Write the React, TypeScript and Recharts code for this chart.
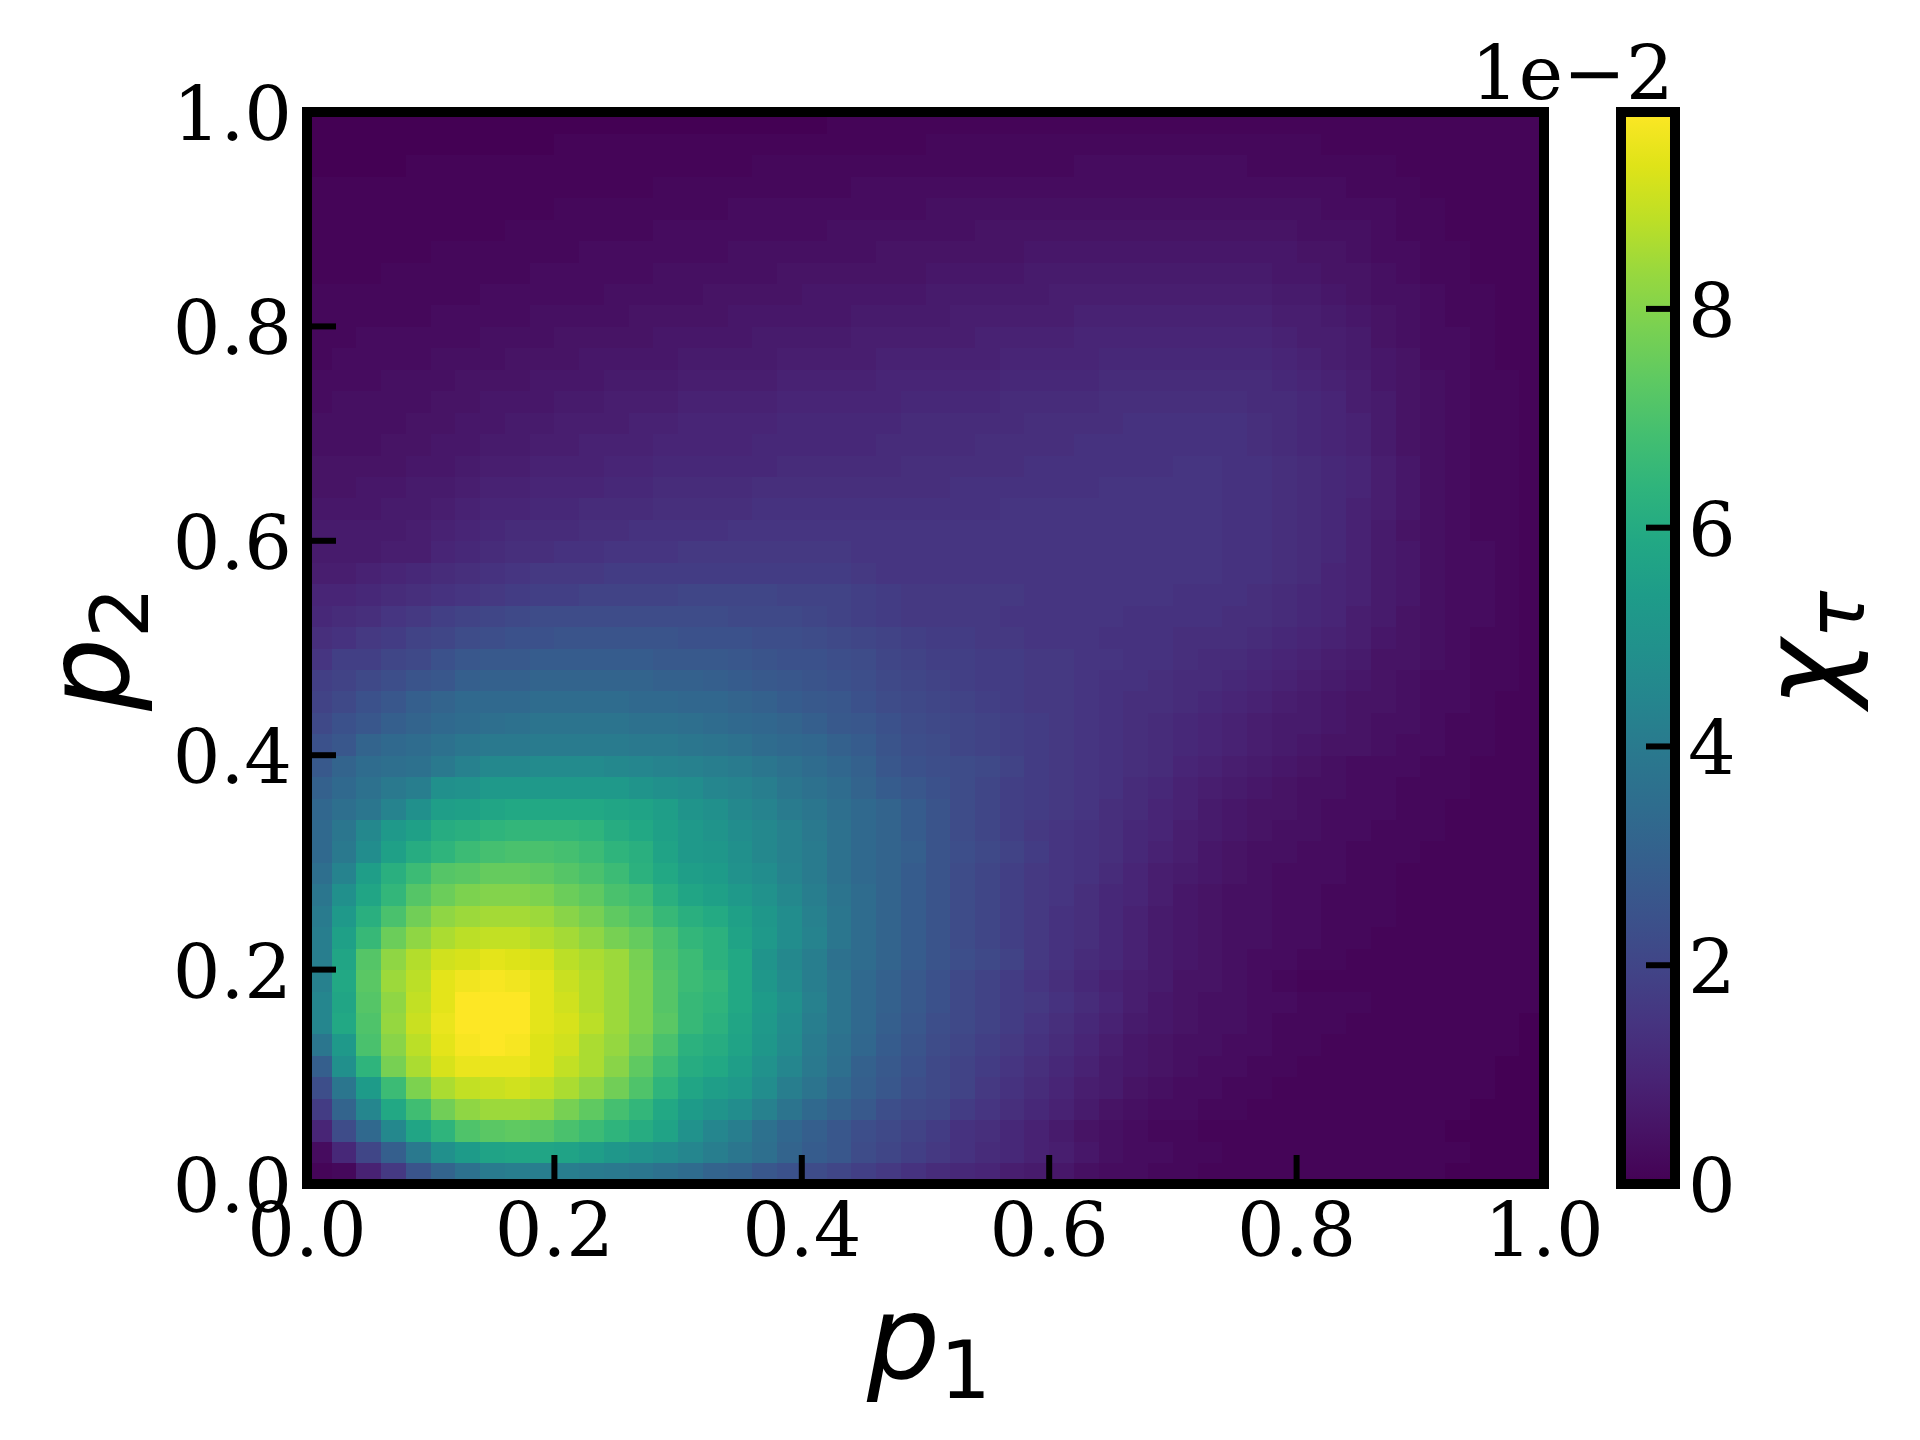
import React from "react";
import { ScatterChart, Scatter, XAxis, YAxis, ReferenceArea, Label } from "recharts";

// heat map values in units of 1e-3, bottom row (p2 = 0) first, left column (p1 = 0) first
const chiRows: number[][] = [
  [1,2,9,16,25,31,36,40,41,41,41,40,39,38,36,34,31,30,26,24,22,20,18,16,14,12,11,10,8,7,6,4,3,3,2,2,1,1,1,1,1,1,1,1,1,1,0,0,0,0],
  [3,11,20,29,39,48,53,56,57,57,56,54,51,49,47,44,41,38,35,31,28,26,22,20,18,16,14,12,11,9,8,6,4,3,3,2,2,1,1,1,1,1,1,1,1,1,1,0,0,0],
  [10,22,33,45,57,63,70,72,73,72,69,66,63,60,56,49,44,41,36,32,29,26,23,21,19,17,14,13,11,9,7,5,4,3,2,2,1,1,1,1,1,1,1,1,1,1,0,0,0,0],
  [17,31,44,58,67,76,81,83,83,82,77,73,68,64,58,53,50,47,42,37,33,30,27,23,21,20,17,15,13,11,9,7,5,4,3,3,2,2,1,1,1,1,1,1,1,1,1,0,0,0],
  [23,38,53,66,78,85,88,89,90,88,85,81,76,70,63,57,54,52,47,41,37,33,29,26,23,21,19,16,14,12,10,8,7,5,4,3,3,2,2,1,1,1,1,1,1,1,1,1,0,0],
  [29,48,63,77,85,91,94,94,94,92,88,85,80,73,66,60,58,54,49,44,39,35,30,27,24,21,19,17,15,13,11,9,7,6,5,4,3,3,2,2,1,1,1,1,1,1,1,1,0,0],
  [38,52,69,80,87,93,96,97,96,92,90,85,82,76,69,62,60,56,51,46,40,36,32,28,25,22,20,18,16,14,12,10,8,6,5,4,4,3,3,2,2,1,1,1,1,1,1,1,1,0],
  [44,58,70,82,89,94,97,97,97,93,91,87,83,78,72,65,62,57,52,47,41,37,33,29,26,23,21,19,17,15,13,11,9,7,6,5,4,4,3,2,2,2,1,1,1,1,1,1,1,0],
  [44,57,71,81,88,93,97,97,97,93,90,86,83,78,71,65,63,58,53,48,42,37,33,30,27,24,21,19,17,16,14,12,10,8,6,5,4,4,3,3,2,2,2,1,1,1,1,1,1,1],
  [42,58,72,83,87,93,95,96,95,93,89,86,83,78,71,66,64,58,51,46,41,37,33,30,27,24,21,19,17,15,13,11,9,8,7,5,5,4,3,2,1,1,1,1,1,1,1,1,1,1],
  [41,57,71,81,86,90,91,93,92,91,87,85,83,77,70,66,62,58,50,45,41,36,34,31,28,25,23,21,19,16,14,12,11,9,7,6,5,4,3,3,2,2,1,1,1,1,1,1,1,1],
  [41,55,65,75,81,85,87,88,88,86,84,81,77,74,69,64,62,56,52,47,43,38,34,31,28,25,22,20,18,16,14,13,11,9,7,6,5,4,4,3,3,2,2,1,1,1,1,1,1,1],
  [40,52,61,69,76,81,83,84,84,83,80,77,73,70,65,61,59,55,51,47,42,38,34,31,28,25,22,20,18,16,14,13,11,9,7,6,5,4,4,3,3,2,2,2,1,1,1,1,1,1],
  [38,48,57,64,71,75,78,79,79,78,75,73,69,67,61,57,55,52,49,45,41,37,34,31,28,25,22,20,18,16,15,13,11,10,8,6,5,4,4,3,3,2,2,2,1,1,1,1,1,1],
  [35,43,54,61,66,71,72,74,74,73,71,69,66,62,58,54,53,49,47,43,40,36,33,31,28,25,22,20,18,16,15,14,12,10,8,7,6,5,4,3,3,3,2,2,1,1,1,1,1,1],
  [33,39,47,55,60,63,66,68,69,69,68,66,63,61,56,52,51,48,45,42,40,36,33,31,29,25,23,21,19,17,15,14,13,11,9,8,6,5,4,4,3,3,2,2,2,1,1,1,1,1],
  [33,38,45,52,55,60,61,63,64,64,64,63,60,58,55,52,50,47,45,42,39,36,33,31,28,25,22,20,18,16,15,14,13,11,10,8,7,6,5,4,4,3,3,2,2,2,1,1,1,1],
  [32,35,38,43,48,54,55,57,58,58,58,58,57,56,54,50,48,45,43,40,38,35,33,31,28,25,22,20,18,17,16,15,13,12,10,9,7,6,5,5,4,3,3,3,2,2,1,1,1,1],
  [30,33,36,39,41,48,49,52,52,52,52,52,52,50,48,47,44,43,41,38,36,34,31,28,26,24,22,20,18,17,16,15,14,12,11,9,8,7,6,5,4,4,3,3,2,2,2,1,1,1],
  [27,31,34,35,36,39,42,45,45,46,46,46,45,44,43,42,41,40,38,36,34,32,30,26,24,23,22,21,19,17,16,15,14,13,12,10,9,8,7,6,5,4,3,3,3,2,2,1,1,1],
  [24,26,31,33,34,36,38,39,39,40,40,40,40,39,39,38,37,36,34,33,32,30,28,25,23,22,20,19,18,17,16,15,14,13,12,11,10,9,8,7,6,5,5,4,3,3,2,2,1,1],
  [21,24,26,29,31,33,34,35,36,37,37,37,37,36,36,35,34,33,32,31,29,27,26,24,22,21,20,19,18,17,16,15,14,13,12,11,10,9,8,7,7,6,5,4,4,3,2,2,1,1],
  [19,21,24,26,29,31,33,33,33,34,34,34,34,33,33,32,32,31,30,28,27,26,24,22,21,20,19,18,17,16,16,15,14,13,13,12,11,10,9,8,7,6,5,5,4,3,3,2,1,1],
  [18,19,21,23,25,26,29,30,30,31,31,31,31,31,30,30,29,28,27,26,25,24,23,21,20,19,18,17,17,16,16,15,14,14,13,12,12,11,10,9,8,7,6,5,4,3,3,2,2,1],
  [15,18,18,20,21,24,26,27,27,28,28,28,28,28,27,27,27,26,25,24,24,23,22,20,19,18,18,17,17,16,16,15,15,14,14,13,12,12,11,10,9,8,7,5,5,4,3,2,2,1],
  [13,14,16,17,19,20,22,23,24,24,25,25,25,25,25,24,24,24,23,23,22,21,20,19,18,17,17,16,16,15,15,15,14,14,14,13,13,13,12,11,10,9,8,6,5,4,3,2,2,1],
  [11,12,13,15,16,18,19,20,21,22,22,22,22,22,22,22,22,21,21,21,20,19,18,17,16,16,16,16,15,15,15,15,15,14,14,14,14,13,13,12,11,10,8,7,5,4,3,3,2,1],
  [10,10,11,12,13,14,15,16,17,18,18,19,19,19,19,20,20,20,20,19,19,19,18,17,16,16,16,16,16,15,15,15,15,15,15,14,14,14,13,12,11,10,9,7,6,4,3,3,2,1],
  [8,8,9,10,11,12,13,14,15,16,16,16,17,17,17,17,17,17,17,17,17,17,16,15,15,15,15,15,15,15,15,15,15,15,15,15,15,14,14,13,12,10,9,7,6,4,3,3,2,1],
  [7,7,7,8,8,10,11,12,13,13,14,14,15,15,15,16,16,16,16,16,16,16,15,15,15,15,15,15,15,15,15,15,15,15,15,15,15,14,14,13,12,11,9,7,6,4,3,3,2,1],
  [7,7,7,7,8,9,10,11,12,12,12,13,13,14,14,14,14,15,15,15,15,15,15,15,15,15,15,15,15,15,15,15,15,15,15,15,15,14,14,13,12,11,9,7,5,4,3,2,2,1],
  [6,6,6,7,7,8,9,10,10,11,11,12,12,12,13,13,13,13,14,14,14,14,14,14,14,14,14,14,15,15,15,15,15,15,15,15,15,14,14,13,12,11,9,8,6,4,3,2,2,1],
  [5,5,6,6,7,7,8,9,9,10,10,10,11,11,12,12,12,12,13,13,13,13,13,13,13,13,14,14,14,14,14,14,15,15,15,15,15,14,14,13,12,11,10,8,6,4,3,2,2,1],
  [5,5,5,5,6,6,7,8,8,9,9,9,10,10,11,11,11,11,11,12,12,12,12,12,13,13,13,13,13,14,14,14,14,14,14,15,15,14,14,13,12,11,10,8,6,4,3,2,2,1],
  [4,4,4,5,5,6,6,7,7,8,8,9,9,9,10,10,10,10,11,11,11,11,11,12,12,12,12,13,13,13,13,14,14,14,14,14,14,14,13,12,11,10,9,7,5,4,3,2,2,1],
  [4,4,4,4,5,5,6,6,7,7,8,8,8,9,9,10,10,10,10,11,11,11,11,11,12,12,12,12,12,13,13,13,13,14,14,14,14,14,13,12,11,10,9,7,5,4,3,2,2,1],
  [3,4,4,4,4,5,5,6,6,6,7,7,8,8,8,9,9,9,9,10,10,10,10,10,11,11,11,11,12,12,12,12,13,13,13,13,13,13,12,12,11,10,8,7,5,4,3,2,2,1],
  [3,3,3,4,4,4,5,5,5,6,6,6,7,7,7,8,8,8,8,9,9,9,9,10,10,10,10,10,11,11,11,11,12,12,12,12,12,12,12,11,10,9,8,6,5,4,3,2,2,1],
  [2,3,3,3,3,4,4,4,5,5,5,6,6,6,6,7,7,7,7,8,8,8,8,9,9,9,9,9,10,10,10,10,11,11,11,11,11,11,11,10,9,8,7,6,5,3,3,2,1,1],
  [2,2,3,3,3,3,3,4,4,4,5,5,5,5,6,6,6,6,7,7,7,7,8,8,8,8,8,9,9,9,9,10,10,10,10,10,10,10,10,9,8,8,7,5,4,3,3,2,1,1],
  [2,2,2,2,2,3,3,3,3,4,4,4,4,5,5,5,5,6,6,6,6,6,7,7,7,7,8,8,8,8,8,9,9,9,9,9,9,9,9,8,8,7,6,5,4,3,2,2,1,1],
  [2,2,2,2,2,2,2,3,3,3,3,3,4,4,4,4,5,5,5,5,6,6,6,6,6,7,7,7,7,7,8,8,8,8,8,8,8,8,8,7,7,6,5,4,4,3,2,2,1,1],
  [1,1,1,2,2,2,2,2,2,3,3,3,3,3,4,4,4,4,4,5,5,5,5,5,5,6,6,6,6,7,7,7,7,7,7,7,7,7,7,6,6,5,5,4,3,2,2,1,1,1],
  [1,1,1,1,1,2,2,2,2,2,2,3,3,3,3,3,3,4,4,4,4,4,4,5,5,5,5,5,5,6,6,6,6,6,6,6,6,6,6,6,5,5,4,3,3,2,2,1,1,1],
  [1,1,1,1,1,1,1,1,2,2,2,2,2,2,3,3,3,3,3,3,3,4,4,4,4,4,4,5,5,5,5,5,5,5,5,5,5,5,5,5,4,4,4,3,2,2,1,1,1,1],
  [1,1,1,1,1,1,1,1,1,1,2,2,2,2,2,2,2,3,3,3,3,3,3,3,3,4,4,4,4,4,4,4,4,4,4,4,4,4,4,4,4,3,3,3,2,2,1,1,1,1],
  [1,1,1,1,1,1,1,1,1,1,1,1,1,1,2,2,2,2,2,2,2,2,3,3,3,3,3,3,3,3,3,3,3,3,3,3,3,3,3,3,3,3,2,2,2,1,1,1,1,1],
  [0,0,0,0,1,1,1,1,1,1,1,1,1,1,1,1,1,1,2,2,2,2,2,2,2,2,2,2,2,2,2,3,3,3,3,3,3,3,2,2,2,2,2,2,1,1,1,1,1,1],
  [0,0,0,0,0,0,0,0,0,0,1,1,1,1,1,1,1,1,1,1,1,1,1,1,1,2,2,2,2,2,2,2,2,2,2,2,2,2,2,2,2,1,1,1,1,1,1,1,1,1],
  [0,0,0,0,0,0,0,0,0,0,0,0,0,0,0,0,0,0,0,0,0,1,1,1,1,1,1,1,1,1,1,1,1,1,1,1,1,1,1,1,1,1,1,1,1,1,1,1,1,1],
];

const axisTicks = [0, 0.2, 0.4, 0.6, 0.8, 1];
const colorbarTicks = [0, 2, 4, 6, 8];
const colorMax = 9.8;

// viridis, evenly spaced
const viridis = [
  "#440154", "#471365", "#482475", "#463480", "#414487", "#3b528b", "#355f8d",
  "#2f6c8e", "#2a788e", "#25858e", "#21918c", "#1e9c89", "#22a884", "#2fb47c",
  "#44bf70", "#5ec962", "#7ad151", "#98d83e", "#bddf26", "#dfe318", "#fde725",
];

const SERIF = "'DejaVu Serif'";
const SANS = "'DejaVu Sans'";
const TICK_SIZE = 75;
const TICK_LEN = 29;
const LABEL_SIZE = 115;
const SUB_SIZE = 80;

const PLOT = { left: 307, top: 112, right: 1544, bottom: 1184 };
const CBAR = { left: 1621, right: 1675 };
const N = chiRows.length;
const cellW = (PLOT.right - PLOT.left) / N;
const cellH = (PLOT.bottom - PLOT.top) / N;

const cells = chiRows.flatMap((row, j) =>
  row.map((v, i) => ({ p1: (i + 0.5) / N, p2: (j + 0.5) / N, chi: v / 10 }))
);

const hex = (s: string, k: number) => parseInt(s.slice(k, k + 2), 16);

const colorOf = (value: number) => {
  const t = Math.min(value / 9.7, 1) * (viridis.length - 1);
  const a = Math.floor(t);
  const b = Math.min(a + 1, viridis.length - 1);
  const f = t - a;
  const mix = (k: number) =>
    Math.round(hex(viridis[a], k) + (hex(viridis[b], k) - hex(viridis[a], k)) * f);
  return `rgb(${mix(1)},${mix(3)},${mix(5)})`;
};

const CellShape = (props: any) => (
  <rect
    x={props.cx - cellW / 2}
    y={props.cy - cellH / 2}
    width={cellW + 0.5}
    height={cellH + 0.5}
    fill={colorOf(props.payload.chi)}
    shapeRendering="crispEdges"
  />
);

const BottomTick = ({ x, payload }: any) => (
  <g>
    {payload.value > 0 && payload.value < 1 && (
      <line x1={x} x2={x} y1={PLOT.bottom} y2={PLOT.bottom - TICK_LEN} stroke="#000" strokeWidth={6} />
    )}
    <text x={x} y={1256} textAnchor="middle" fontFamily={SERIF} fontSize={TICK_SIZE} fill="#000">
      {payload.value.toFixed(1)}
    </text>
  </g>
);

const LeftTick = ({ y, payload }: any) => (
  <g>
    {payload.value > 0 && payload.value < 1 && (
      <line x1={PLOT.left} x2={PLOT.left + TICK_LEN} y1={y} y2={y} stroke="#000" strokeWidth={6} />
    )}
    <text x={292} y={y + 28} textAnchor="end" fontFamily={SERIF} fontSize={TICK_SIZE} fill="#000">
      {payload.value.toFixed(1)}
    </text>
  </g>
);

const RightTick = ({ y, payload }: any) => (
  <g>
    {payload.value > 0 && (
      <line x1={CBAR.right} x2={CBAR.right - TICK_LEN} y1={y} y2={y} stroke="#000" strokeWidth={6} />
    )}
    <text x={1688} y={y + 28} fontFamily={SERIF} fontSize={TICK_SIZE} fill="#000">
      {payload.value}
    </text>
  </g>
);

const MathLabel = ({ x, y, rotate, main, sub }: any) => (
  <text
    x={x}
    y={y}
    textAnchor="middle"
    transform={rotate ? `rotate(-90 ${x} ${y})` : undefined}
    fontFamily={SANS}
    fill="#000"
  >
    <tspan fontSize={LABEL_SIZE} fontStyle="italic">{main}</tspan>
    <tspan fontSize={SUB_SIZE} fontStyle={sub === "τ" ? "italic" : "normal"} dy={20}>{sub}</tspan>
  </text>
);

const HeatMap = () => (
  <ScatterChart
    width={1920}
    height={1440}
    margin={{ top: PLOT.top, left: PLOT.left - 1, right: 1920 - PLOT.right, bottom: 1440 - PLOT.bottom - 1 }}
  >
    <Scatter data={cells} dataKey="p2" shape={CellShape} isAnimationActive={false} />
    <XAxis
      type="number"
      dataKey="p1"
      domain={[0, 1]}
      ticks={axisTicks}
      interval={0}
      height={1}
      axisLine={false}
      tickLine={false}
      tick={BottomTick}
      label={{ content: () => <MathLabel x={929} y={1378} main="p" sub="1" /> }}
    />
    <YAxis
      type="number"
      dataKey="p2"
      domain={[0, 1]}
      ticks={axisTicks}
      interval={0}
      width={1}
      axisLine={false}
      tickLine={false}
      tick={LeftTick}
      label={{ content: () => <MathLabel x={128} y={649} rotate main="p" sub="2" /> }}
    />
  </ScatterChart>
);

// spines sit in their own chart on top, the scatter cells would cover them otherwise
const PlotFrame = () => (
  <ScatterChart
    width={1920}
    height={1440}
    margin={{ top: PLOT.top, left: PLOT.left, right: 1920 - PLOT.right, bottom: 1440 - PLOT.bottom - 1 }}
  >
    <XAxis type="number" dataKey="x" domain={[0, 1]} ticks={[]} height={1} axisLine={false} tickLine={false} tick={false} />
    <YAxis type="number" dataKey="y" domain={[0, 1]} ticks={[]} width={0} axisLine={false} tickLine={false} tick={false} />
    <Scatter data={axisTicks.map((t) => ({ x: t, y: t }))} dataKey="y" shape={() => null} isAnimationActive={false} />
    <ReferenceArea x1={0} x2={1} y1={0} y2={1} fill="none" stroke="#000" strokeWidth={10} ifOverflow="visible" />
  </ScatterChart>
);

const ColorBar = () => (
  <ScatterChart
    width={1920}
    height={1440}
    margin={{ top: PLOT.top, left: CBAR.left, right: 1920 - CBAR.right - 1, bottom: 1440 - PLOT.bottom - 1 }}
  >
    <defs>
      <linearGradient id="viridisBar" x1="0" y1="1" x2="0" y2="0">
        {viridis.map((c, i) => (
          <stop key={c} offset={i / (viridis.length - 1)} stopColor={c} />
        ))}
      </linearGradient>
    </defs>
    <XAxis type="number" dataKey="x" domain={[0, 1]} ticks={[]} height={1} axisLine={false} tickLine={false} tick={false} />
    <YAxis
      type="number"
      dataKey="y"
      orientation="right"
      domain={[0, colorMax]}
      ticks={colorbarTicks}
      interval={0}
      width={1}
      axisLine={false}
      tickLine={false}
      tick={RightTick}
    >
      <Label content={() => <MathLabel x={1844} y={649} rotate main="χ" sub="τ" />} />
      <Label
        content={() => (
          <text x={1471} y={99} fontFamily={SERIF} fontSize={TICK_SIZE} fill="#000">
            1e−2
          </text>
        )}
      />
    </YAxis>
    <ReferenceArea x1={0} x2={1} y1={0} y2={colorMax} fill="url(#viridisBar)" fillOpacity={1} stroke="none" />
    <Scatter data={colorbarTicks.map((y) => ({ x: 0.5, y }))} dataKey="y" shape={() => null} isAnimationActive={false} />
    <ReferenceArea x1={0} x2={1} y1={0} y2={colorMax} fill="none" stroke="#000" strokeWidth={10} ifOverflow="visible" />
  </ScatterChart>
);

export default function App() {
  return (
    <div style={{ position: "absolute", left: 0, top: 0, width: 1920, height: 1440, background: "#fff" }}>
      <div style={{ position: "absolute", left: 0, top: 0 }}>
        <HeatMap />
      </div>
      <div style={{ position: "absolute", left: 0, top: 0 }}>
        <PlotFrame />
      </div>
      <div style={{ position: "absolute", left: 0, top: 0 }}>
        <ColorBar />
      </div>
    </div>
  );
}
